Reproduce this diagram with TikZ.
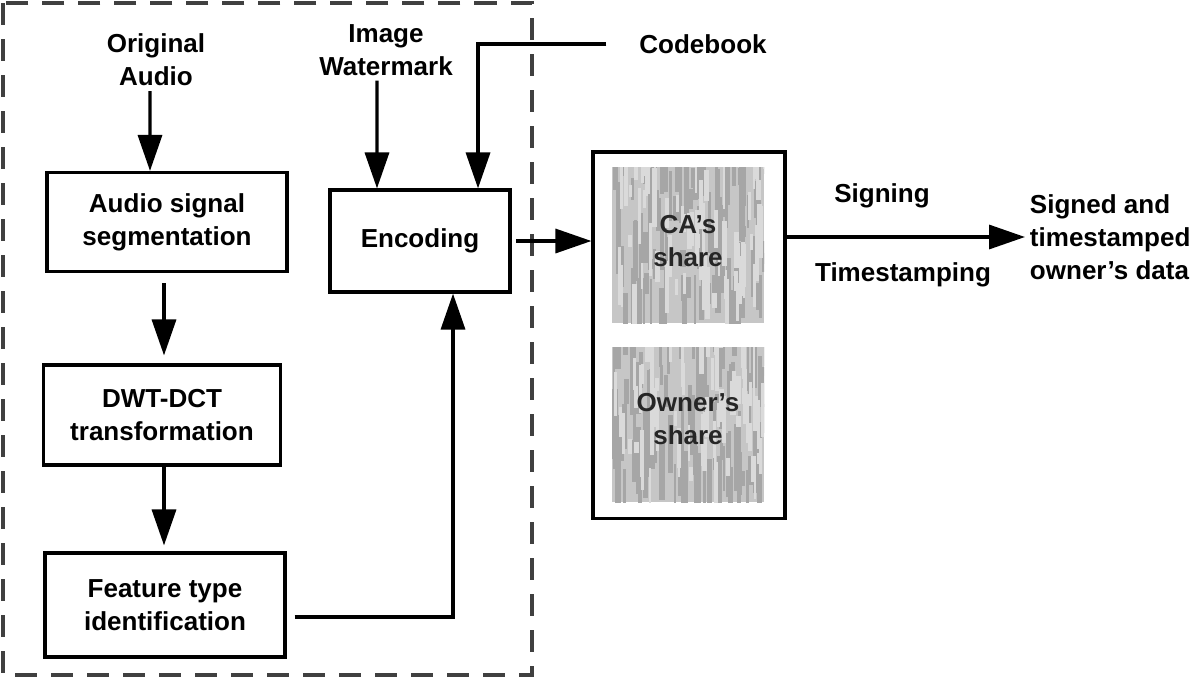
\documentclass[tikz,border=0pt]{standalone}
\usepackage{fontspec}
\setmainfont{Liberation Sans}
\usetikzlibrary{arrows.meta}

\definecolor{framegray}{HTML}{404040}
\definecolor{sharebg}{HTML}{C6C6C6}
\definecolor{streak}{HTML}{A6A6A6}
\definecolor{streaklt}{HTML}{DADADA}

\tikzset{
  lbl/.style={font=\bfseries\fontsize{18.5}{23.5}\selectfont, align=center},
  blk/.style={lbl, draw, line width=2.2pt},
  arr/.style={line width=2.4pt, -{Triangle[length=0.9cm,width=0.6cm]}},
  lin/.style={line width=2.4pt}
}

\newcommand{\sharetex}[2]{%
  \fill[sharebg] (612,#1) rectangle (764,#2);
  \begin{scope}
    \clip (612,#1) rectangle (764,#2);
    \foreach \i in {1,...,110} {
      \pgfmathsetmacro\xx{612+152*rnd}
      \pgfmathsetmacro\yy{#1-30+(#2-#1)*rnd}
      \pgfmathsetmacro\hh{10+60*rnd}
      \pgfmathsetmacro\ww{2+4*rnd}
      \fill[streak] (\xx,\yy) rectangle ++(\ww,\hh);
    }
    \foreach \i in {1,...,70} {
      \pgfmathsetmacro\xx{612+152*rnd}
      \pgfmathsetmacro\yy{#1-30+(#2-#1)*rnd}
      \pgfmathsetmacro\hh{10+50*rnd}
      \pgfmathsetmacro\ww{2+3*rnd}
      \fill[streaklt] (\xx,\yy) rectangle ++(\ww,\hh);
    }
  \end{scope}
}

\begin{document}
\begin{tikzpicture}[x=0.025cm, y=-0.025cm]
    \useasboundingbox (0,0) rectangle (1200,679);
    \pgfmathsetseed{17}

    % dashed frame
    \draw[framegray, line width=2.4pt, dash pattern=on 0.55cm off 0.35cm] (3,3) rectangle (532,675);

    % inputs
    \node[lbl] (orig) at (156,60) {Original\\Audio};
    \node[lbl] (wmark) at (386,50) {Image\\Watermark};
    \node[lbl] (code) at (703,44) {Codebook};

    % left column
    \node[blk, minimum width=6cm, minimum height=2.475cm] (audio) at (167,222) {Audio signal\\segmentation};
    \node[blk, minimum width=5.925cm, minimum height=2.5cm] (dwt) at (162,415) {DWT-DCT\\transformation};
    \node[blk, minimum width=6cm, minimum height=2.6cm] (feat) at (165,605) {Feature type\\identification};
    \node[blk, minimum width=4.5cm, minimum height=2.55cm] (enc) at (420,241) {Encoding};

    % shares
    \sharetex{167}{323}
    \sharetex{347}{502}
    \node[draw, line width=2.2pt, minimum width=4.8cm, minimum height=9.15cm] (share) at (689,335) {};
    \node[lbl, text=black!85] (ca) at (688,241) {CA's\\share};
    \node[lbl, text=black!85] (own) at (688,419) {Owner's\\share};

    % output
    \node[lbl, align=left, anchor=west] (out) at (1025,237) {Signed and\\timestamped\\owner's data};
    \node[lbl] (sign) at (882,196) {Signing};
    \node[lbl] (stamp) at (903,275) {Timestamping};

    % connectors
    \draw[arr] ([xshift=-0.15cm]orig.south) -- ([xshift=-0.425cm]audio.north);
    \draw[arr, shorten <=0.25cm, shorten >=0.2cm] ([xshift=-0.075cm]audio.south) -- ([xshift=-0.075cm]audio.south |- dwt.north);
    \draw[arr, shorten >=0.15cm] ([xshift=0.05cm]dwt.south) -- ([xshift=0.05cm]dwt.south |- feat.north);
    \draw[arr] ([xshift=-0.225cm]wmark.south) -- ([xshift=-1.075cm]enc.north);
    \draw[arr] ([xshift=-0.7cm]code.west) -| ([xshift=1.45cm]enc.north);
    \draw[arr] ([xshift=0.2cm,yshift=-0.3cm]feat.east) -| ([xshift=0.825cm]enc.south);
    \draw[arr] ([xshift=0.12cm]enc.east) -- (share.west |- enc.east);
    \draw[arr] (share.east |- out.west) -- (out.west);
\end{tikzpicture}
\end{document}
